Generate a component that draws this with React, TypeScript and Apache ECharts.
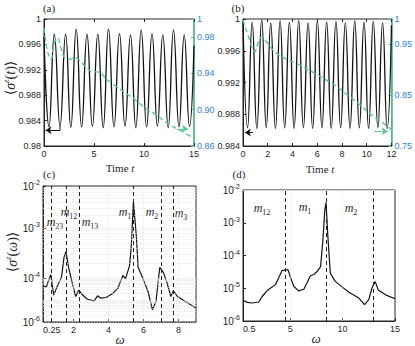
import React, { useEffect, useRef } from 'react';
import * as echarts from 'echarts';

// ---------- Panel (a) ----------
const aOscT = [0, 0.5, 1.03, 1.6, 2.16, 2.68, 3.22, 3.76, 4.3, 4.84, 5.38, 5.92, 6.45, 7.0, 7.55, 8.1, 8.65, 9.18, 9.72, 10.26, 10.8, 11.34, 11.88, 12.42, 12.95, 13.5, 14.02, 14.55, 15];
const aOscV = [0.9972, 0.983, 0.9976, 0.9831, 0.9976, 0.9829, 0.9984, 0.983, 0.9976, 0.9831, 0.9976, 0.9829, 0.9984, 0.983, 0.9977, 0.9831, 0.9975, 0.9829, 0.9983, 0.983, 0.9977, 0.9831, 0.9975, 0.9829, 0.9983, 0.983, 0.9975, 0.9831, 0.9958];
const aDecT = [0, 0.35, 0.7, 1.0, 1.35, 1.7, 2.1, 2.6, 3.0, 3.5, 4.2, 4.9, 5.5, 6.2, 7.2, 8.2, 9.0, 10.0, 11.0, 11.9, 12.8, 13.5, 14.2, 15];
const aDecV = [0.99, 0.965, 0.9555, 0.972, 0.9787, 0.968, 0.957, 0.9555, 0.9575, 0.955, 0.947, 0.942, 0.9415, 0.934, 0.926, 0.918, 0.912, 0.903, 0.896, 0.8885, 0.882, 0.878, 0.8735, 0.8685];
const aLeftTicks = [0.98, 0.984, 0.988, 0.992, 0.996, 1];
const aRightTicks = [0.86, 0.9, 0.94, 0.98, 1];
const aArrowBlack = [[1.6, 0.9825], [0.15, 0.9825]];
const aArrowStem = [[1.6, 0.9831], [1.6, 0.9825]];
const aArrowGreen = [[13.3, 0.879], [14.4, 0.879]];

// ---------- Panel (b) ----------
const bOscT = [0, 0.37, 0.74, 1.12, 1.51, 1.88, 2.24, 2.62, 3.0, 3.37, 3.75, 4.13, 4.5, 4.88, 5.26, 5.63, 6.01, 6.38, 6.76, 7.13, 7.51, 7.89, 8.27, 8.65, 9.03, 9.4, 9.78, 10.15, 10.53, 10.9, 11.28, 11.65, 12];
const bOscV = [0.9998, 0.9863, 0.9996, 0.9862, 0.9999, 0.9863, 0.9995, 0.9862, 0.9998, 0.9863, 0.9996, 0.9862, 0.9998, 0.9863, 0.9995, 0.9862, 0.9998, 0.9863, 0.9996, 0.9862, 0.9997, 0.9863, 0.9995, 0.9862, 0.9998, 0.9863, 0.9996, 0.9862, 0.9997, 0.9863, 0.9995, 0.9862, 0.9992];
const bDecT = [0, 0.45, 0.95, 1.25, 1.55, 1.9, 2.4, 3.0, 3.6, 4.3, 4.9, 5.6, 6.3, 7.0, 7.6, 8.3, 8.9, 9.6, 10.2, 10.8, 11.4, 12];
const bDecV = [0.998, 0.965, 0.936, 0.955, 0.965, 0.955, 0.94, 0.928, 0.92, 0.913, 0.905, 0.896, 0.886, 0.876, 0.867, 0.853, 0.842, 0.828, 0.815, 0.804, 0.794, 0.782];
const bLeftTicks = [0.984, 0.988, 0.992, 0.996, 1];
const bRightTicks = [0.75, 0.85, 0.95, 1];
const bArrowBlack = [[0.8, 0.9857], [0.15, 0.9857]];
const bArrowGreen = [[10.6, 0.779], [11.7, 0.779]];

// ---------- Panel (c) ----------
const cFreq = [0.25, 0.44, 0.57, 0.7, 0.86, 1.05, 1.31, 1.45, 1.56, 1.73, 1.96, 2.12, 2.3, 2.5, 2.79, 3.18, 3.37, 3.56, 3.85, 4.24, 4.53, 4.82, 4.97, 5.2, 5.3, 5.42, 5.59, 5.69, 5.97, 6.26, 6.51, 6.71, 6.93, 7.13, 7.33, 7.56, 7.71, 7.94, 8.39, 9.0];
const cLevel = [-4.94, -4.97, -4.78, -4.61, -5.21, -4.97, -4.68, -4.1, -3.93, -4.44, -4.92, -5.25, -5.06, -5.2, -5.33, -5.38, -5.23, -5.3, -5.28, -5.16, -5.01, -4.63, -4.73, -4.34, -3.77, -2.46, -3.48, -4.39, -4.73, -5.11, -5.64, -5.4, -4.39, -4.54, -4.82, -5.25, -5.08, -5.25, -5.4, -5.59];
const cModes = [0.7, 1.6, 2.3, 5.4, 7.0, 7.7];
const cXTicks = [0.25, 2, 4, 6, 8];
const cTickPos = [-2, -3.24, -4.71, -6];
const cTickExp = [-2, -3, -4, -6];

// ---------- Panel (d) ----------
const dFreq = [0.5, 0.9, 1.37, 2.0, 2.33, 2.8, 3.6, 3.9, 4.23, 4.55, 4.8, 5.0, 5.34, 5.8, 6.3, 6.6, 6.93, 7.25, 7.57, 7.9, 8.12, 8.3, 8.42, 8.6, 8.83, 9.3, 9.95, 10.6, 11.55, 12.1, 12.5, 12.8, 13.1, 13.4, 14.1, 15];
const dPower = [4.3e-6, 3.7e-6, 3.55e-6, 3.8e-6, 5.6e-6, 8.5e-6, 1.29e-5, 2.04e-5, 3.47e-5, 3.63e-5, 3.63e-5, 2.29e-5, 1.15e-5, 8.3e-6, 9.3e-6, 1.45e-5, 2.4e-5, 2.63e-5, 3.24e-5, 4.57e-5, 2.88e-4, 2.34e-3, 4.17e-3, 3.63e-4, 2.88e-5, 1.62e-5, 1.1e-5, 7.6e-6, 5.0e-6, 3.16e-6, 4.47e-6, 1.0e-5, 1.62e-5, 8.9e-6, 6.3e-6, 4.8e-6];
const dModes = [4.52, 8.42, 12.9];
const dXTicks = [0.5, 5, 10, 15];

// ---------- styles ----------
const FONT_TICK = "'Liberation Sans Narrow','Liberation Sans',sans-serif";
const FONT_SERIF = "'Liberation Serif','DejaVu Serif',serif";
const INK = '#262626';
const GREEN = '#58c898';
const BLUE = '#2f84cc';

const zip = (xs: number[], ys: number[]) => xs.map((x, i) => [x, ys[i]]);

const tickLabel = { fontFamily: FONT_TICK, fontSize: 9, color: INK, margin: 3 };
const inTick = { show: true, inside: true, length: 3, lineStyle: { color: INK, width: 1 } };
const blackLine = { show: true, onZero: false, lineStyle: { color: INK, width: 1 } };
const greenLine = { show: true, onZero: false, lineStyle: { color: GREEN, width: 1.8 } };
const supRich = {
  b: { fontFamily: FONT_TICK, fontSize: 10, color: INK, lineHeight: 14 },
  s: { fontFamily: FONT_TICK, fontSize: 7, color: INK, verticalAlign: 'top', lineHeight: 7 },
};

const fmtLeft = (v: number) => (Math.abs(v - 1) < 1e-9 ? '1' : String(Number(v.toFixed(3))));
const fmtRight = (v: number) => (Math.abs(v - 1) < 1e-9 ? '1' : v.toFixed(2));

const arrow = (pts: number[][], color: string) => ({
  silent: true,
  symbol: ['none', 'arrow'],
  symbolSize: 6,
  label: { show: false },
  lineStyle: { color, width: 1, type: 'solid' },
  data: [[{ coord: pts[0] }, { coord: pts[1] }]],
});

function cGridLevels() {
  const out: number[] = [];
  for (let i = 0; i < cTickPos.length - 1; i++) {
    const top = cTickPos[i];
    const bot = cTickPos[i + 1];
    const dec = cTickExp[i] - cTickExp[i + 1];
    for (let d = 0; d < dec; d++) {
      for (let k = 1; k <= 9; k++) {
        out.push(bot + ((top - bot) * (d + Math.log10(k))) / dec);
      }
    }
  }
  return out;
}
function dGridLevels() {
  const out: number[] = [];
  for (let n = -6; n <= -3; n++) for (let k = 1; k <= 9; k++) out.push(k * Math.pow(10, n));
  return out;
}

const gridLine = { type: 'dotted', color: '#e2e2e2', width: 0.8 };

const titleText = (x: number, y: number, rich: string) => ({
  type: 'text',
  x,
  y,
  silent: true,
  style: {
    text: rich,
    fill: INK,
    align: 'center',
    verticalAlign: 'middle',
    rich: {
      r: { fontFamily: FONT_SERIF, fontSize: 11, fill: INK },
      i: { fontFamily: FONT_SERIF, fontSize: 11, fontStyle: 'italic', fill: INK },
      w: { fontFamily: FONT_SERIF, fontSize: 13, fontStyle: 'italic', fill: INK },
    },
  },
});

const yTitle = (x: number, y: number, arg: string) => ({
  type: 'text',
  x,
  y,
  rotation: Math.PI / 2,
  silent: true,
  style: {
    text: `{n|⟨}{i|σ}{s|z}{n|(}{i|${arg}}{n|)⟩}`,
    fill: INK,
    align: 'center',
    verticalAlign: 'middle',
    rich: {
      n: { fontFamily: FONT_SERIF, fontSize: 14, lineHeight: 18, fill: INK },
      i: { fontFamily: FONT_SERIF, fontSize: 14, fontStyle: 'italic', lineHeight: 18, fill: INK },
      s: { fontFamily: FONT_SERIF, fontSize: 9, fontStyle: 'italic', verticalAlign: 'top', lineHeight: 9, fill: INK },
    },
  },
});

const mLabel = (x: number, y: number, sub: string) => ({
  type: 'text',
  x,
  y,
  silent: true,
  style: {
    text: `{m|m}{s|${sub}}`,
    fill: INK,
    align: 'center',
    verticalAlign: 'middle',
    rich: {
      m: { fontFamily: FONT_SERIF, fontSize: 12, fontStyle: 'italic', lineHeight: 16, fill: INK },
      s: { fontFamily: FONT_SERIF, fontSize: 8, verticalAlign: 'bottom', lineHeight: 8, fill: INK },
    },
  },
});

const panelLetter = (x: number, y: number, t: string) => ({
  type: 'text',
  x,
  y,
  silent: true,
  style: { text: t, fill: INK, fontFamily: FONT_SERIF, fontSize: 11, align: 'center', verticalAlign: 'middle' },
});

function buildOption() {
  const gridBox = { show: true, borderColor: INK, borderWidth: 1, backgroundColor: 'transparent' };
  const xBase = { type: 'value', position: 'bottom', axisLine: blackLine, splitLine: { show: false } };
  const xTop = { type: 'value', position: 'top', axisLine: { show: false, onZero: false }, axisTick: inTick, axisLabel: { show: false }, splitLine: { show: false } };
  return {
    animation: false,
    backgroundColor: '#ffffff',
    grid: [
      { ...gridBox, left: 44, top: 19, width: 150, height: 127 },
      { ...gridBox, left: 243, top: 19, width: 151, height: 127 },
      { ...gridBox, left: 43, top: 186, width: 153, height: 136 },
      { ...gridBox, left: 243, top: 190, width: 152, height: 131 },
    ],
    xAxis: [
      { ...xBase, gridIndex: 0, min: 0, max: 15, interval: 5, axisTick: inTick, axisLabel: tickLabel },
      { ...xBase, gridIndex: 1, min: 0, max: 12, interval: 2, axisTick: inTick, axisLabel: tickLabel },
      { ...xBase, gridIndex: 2, min: 0.25, max: 9, axisTick: { ...inTick, customValues: cXTicks }, axisLabel: { ...tickLabel, customValues: cXTicks, alignMinLabel: 'left' } },
      { ...xBase, gridIndex: 3, min: 0.5, max: 15, axisTick: { ...inTick, customValues: dXTicks }, axisLabel: { ...tickLabel, customValues: dXTicks, alignMinLabel: 'left' } },
      { ...xTop, gridIndex: 0, min: 0, max: 15, interval: 5 },
      { ...xTop, gridIndex: 1, min: 0, max: 12, interval: 2 },
    ],
    yAxis: [
      { gridIndex: 0, type: 'value', min: 0.98, max: 1, position: 'left', axisLine: blackLine, axisTick: { ...inTick, customValues: aLeftTicks }, axisLabel: { ...tickLabel, customValues: aLeftTicks, formatter: fmtLeft }, splitLine: { show: false } },
      { gridIndex: 0, type: 'value', min: 0.86, max: 1, position: 'right', axisLine: greenLine, axisTick: { ...inTick, customValues: aRightTicks, lineStyle: { color: GREEN } }, axisLabel: { ...tickLabel, color: BLUE, customValues: aRightTicks, formatter: fmtRight }, splitLine: { show: false } },
      { gridIndex: 1, type: 'value', min: 0.984, max: 1, position: 'left', axisLine: blackLine, axisTick: { ...inTick, customValues: bLeftTicks }, axisLabel: { ...tickLabel, customValues: bLeftTicks, formatter: fmtLeft }, splitLine: { show: false } },
      { gridIndex: 1, type: 'value', min: 0.75, max: 1, position: 'right', axisLine: greenLine, axisTick: { ...inTick, customValues: bRightTicks, lineStyle: { color: GREEN } }, axisLabel: { ...tickLabel, color: BLUE, customValues: bRightTicks, formatter: fmtRight }, splitLine: { show: false } },
      {
        gridIndex: 2, type: 'value', min: -6, max: -2, position: 'left', axisLine: blackLine,
        axisTick: { ...inTick, customValues: cTickPos },
        axisLabel: {
          ...tickLabel, customValues: cTickPos, rich: supRich,
          formatter: (v: number) => {
            let idx = 0;
            cTickPos.forEach((p, i) => { if (Math.abs(p - v) < Math.abs(cTickPos[idx] - v)) idx = i; });
            return `{b|10}{s|${cTickExp[idx]}}`;
          },
        },
        splitLine: { show: false },
      },
      {
        gridIndex: 3, type: 'log', logBase: 10, min: 1e-6, max: 1e-2, position: 'left', axisLine: blackLine, axisTick: inTick,
        axisLabel: { ...tickLabel, rich: supRich, formatter: (v: number) => `{b|10}{s|${Math.round(Math.log10(v))}}` },
        splitLine: { show: false },
      },
    ],
    series: [
      // (a)
      {
        type: 'line', xAxisIndex: 0, yAxisIndex: 0, data: zip(aOscT, aOscV), smooth: true, showSymbol: false, z: 3,
        lineStyle: { color: '#111', width: 1.3 }, itemStyle: { color: '#111' },
        markLine: arrow(aArrowBlack, '#111'),
      },
      {
        type: 'line', xAxisIndex: 0, yAxisIndex: 0, data: aArrowStem, showSymbol: false, z: 3,
        lineStyle: { color: '#111', width: 1 },
      },
      {
        type: 'line', xAxisIndex: 0, yAxisIndex: 1, data: zip(aDecT, aDecV), smooth: true, showSymbol: false, z: 4,
        lineStyle: { color: GREEN, width: 1.4, type: [5, 3] },
        markLine: arrow(aArrowGreen, GREEN),
      },
      // (b)
      {
        type: 'line', xAxisIndex: 1, yAxisIndex: 2, data: zip(bOscT, bOscV), smooth: true, showSymbol: false, z: 3,
        lineStyle: { color: '#111', width: 1.3 },
        markLine: arrow(bArrowBlack, '#111'),
      },
      {
        type: 'line', xAxisIndex: 1, yAxisIndex: 3, data: zip(bDecT, bDecV), smooth: true, showSymbol: false, z: 4,
        lineStyle: { color: GREEN, width: 1.4, type: [5, 3] },
        markLine: arrow(bArrowGreen, GREEN),
      },
      // (c) grid
      {
        type: 'line', xAxisIndex: 2, yAxisIndex: 4, data: [], z: 1,
        markLine: {
          silent: true, symbol: 'none', label: { show: false }, lineStyle: gridLine,
          data: [...cGridLevels().map((y) => ({ yAxis: y })), ...[2, 4, 6, 8].map((x) => ({ xAxis: x }))],
        },
      },
      {
        type: 'line', xAxisIndex: 2, yAxisIndex: 4, data: zip(cFreq, cLevel), showSymbol: false, z: 3,
        lineStyle: { color: '#111', width: 1.2 },
        markLine: {
          silent: true, symbol: 'none', label: { show: false },
          lineStyle: { color: '#222', width: 1, type: [4, 3] },
          data: cModes.map((x) => ({ xAxis: x })),
        },
      },
      // (d) grid
      {
        type: 'line', xAxisIndex: 3, yAxisIndex: 5, data: [], z: 1,
        markLine: {
          silent: true, symbol: 'none', label: { show: false }, lineStyle: gridLine,
          data: [...dGridLevels().map((y) => ({ yAxis: y })), ...[5, 10].map((x) => ({ xAxis: x }))],
        },
      },
      {
        type: 'line', xAxisIndex: 3, yAxisIndex: 5, data: zip(dFreq, dPower), showSymbol: false, z: 3,
        lineStyle: { color: '#111', width: 1.2 },
        markLine: {
          silent: true, symbol: 'none', label: { show: false },
          lineStyle: { color: '#222', width: 1, type: [4, 3] },
          data: dModes.map((x) => ({ xAxis: x })),
        },
      },
    ],
    graphic: [
      panelLetter(49, 8, '(a)'),
      panelLetter(238, 8, '(b)'),
      panelLetter(49, 174, '(c)'),
      panelLetter(239, 174, '(d)'),
      titleText(120, 168, '{r|Time }{i|t}'),
      titleText(320, 169, '{r|Time }{i|t}'),
      titleText(120, 339, '{w|ω}'),
      titleText(316, 338, '{w|ω}'),
      yTitle(10, 78, 't'),
      yTitle(12, 252, 'ω'),
      mLabel(55, 222, '23'),
      mLabel(69, 212, '12'),
      mLabel(90, 222, '13'),
      mLabel(125, 212, '1'),
      mLabel(152, 212, '2'),
      mLabel(181, 213, '3'),
      mLabel(262, 208, '12'),
      mLabel(305, 207, '1'),
      mLabel(351, 208, '2'),
    ],
  };
}

export default function App() {
  const ref = useRef<HTMLDivElement>(null);
  useEffect(() => {
    if (!ref.current) return;
    const chart = echarts.init(ref.current, null, { renderer: 'svg' });
    chart.setOption(buildOption() as any);
    return () => chart.dispose();
  }, []);
  return (
    <div
      ref={ref}
      style={{ position: 'absolute', left: 0, top: 0, width: 415, height: 346, background: '#fff' }}
    />
  );
}
